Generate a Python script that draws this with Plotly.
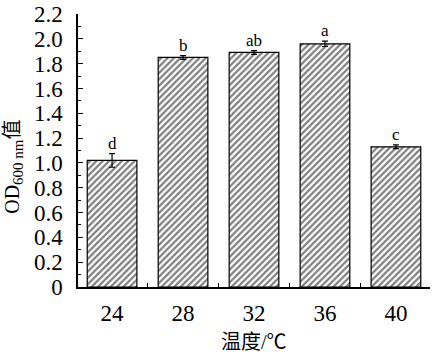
import plotly.graph_objects as go

temps = ["24", "28", "32", "36", "40"]
od_values = [1.02, 1.85, 1.89, 1.96, 1.13]
od_errors = [0.055, 0.015, 0.015, 0.022, 0.015]
sig_letters = ["d", "b", "ab", "a", "c"]
y_ticks = [0, 0.2, 0.4, 0.6, 0.8, 1.0, 1.2, 1.4, 1.6, 1.8, 2.0, 2.2]
y_ticktext = ["0", "0.2", "0.4", "0.6", "0.8", "1.0", "1.2", "1.4", "1.6", "1.8", "2.0", "2.2"]

xpos = list(range(len(temps)))
SERIF = "Liberation Serif"
MIX = "Liberation Serif, Noto Sans CJK SC"

fig = go.Figure()
fig.add_trace(go.Bar(
    x=xpos, y=od_values, width=0.7,
    marker=dict(color="white",
                line=dict(color="black", width=1.2),
                pattern=dict(shape="/", fgcolor="black", bgcolor="white", size=4.5, solidity=0.5)),
    error_y=dict(type="data", array=od_errors, visible=True, color="black", thickness=1.2, width=3),
))

for x, v, e, t in zip(xpos, od_values, od_errors, sig_letters):
    fig.add_annotation(x=x, y=v + e, text=t, showarrow=False, yanchor="bottom", yshift=-1,
                       font=dict(family=SERIF, size=17, color="black"))

fig.add_annotation(xref="paper", yref="paper", x=-0.182, y=0.44, xanchor="center", yanchor="middle",
                   text="OD<sub><span style='font-size:15px'>600 nm</span></sub>值", textangle=-90, showarrow=False,
                   font=dict(family=MIX, size=20, color="black"))
fig.add_annotation(xref="paper", yref="paper", x=0.5, y=-0.2, xanchor="center", yanchor="middle",
                   text="温度/℃", showarrow=False,
                   font=dict(family=MIX, size=20, color="black"))

fig.update_layout(
    width=432, height=357,
    margin=dict(l=78, r=2, t=14, b=70),
    plot_bgcolor="white", paper_bgcolor="white",
    showlegend=False,
    font=dict(family=SERIF, size=20, color="black"),
)
fig.update_xaxes(
    range=[-0.48, 4.48], tickmode="array", tickvals=xpos, ticktext=temps, ticks="",
    showline=True, linecolor="black", linewidth=1.5, showgrid=False, zeroline=False,
    tickfont_family=SERIF, tickfont_size=23, tickfont_color="black", ticklabelstandoff=5,
    minor=dict(tickvals=[-0.5, 0.5, 1.5, 2.5, 3.5, 4.5], ticks="inside", ticklen=4, tickcolor="black", tickwidth=1.2),
)
fig.update_yaxes(
    range=[0, 2.2], tickmode="array", tickvals=y_ticks, ticktext=y_ticktext, ticks="inside", ticklen=5,
    tickcolor="black", tickwidth=1.2,
    showline=True, linecolor="black", linewidth=1.5, showgrid=False, zeroline=False,
    tickfont_family=SERIF, tickfont_size=23, tickfont_color="black", ticklabelstandoff=9,
    minor=dict(dtick=0.1, ticks="inside", ticklen=3, tickcolor="black", tickwidth=1.2),
)

fig.write_html("out.html")
